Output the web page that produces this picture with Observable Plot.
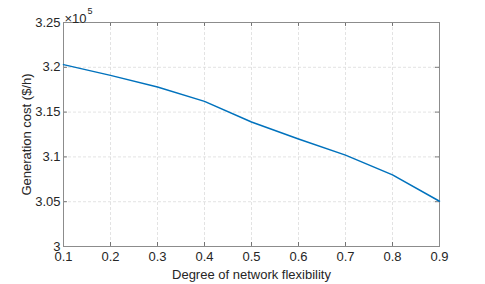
<!DOCTYPE html>
<html><head><meta charset="utf-8">
<script src="https://cdn.jsdelivr.net/npm/d3@7"></script>
<script src="https://cdn.jsdelivr.net/npm/@observablehq/plot@0.6"></script>
<style>body{margin:0;background:#fff}</style>
</head><body><div id="chart"></div>
<script>
const flexibility = [0.1, 0.2, 0.3, 0.4, 0.5, 0.6, 0.7, 0.8, 0.9];
const cost = [3.203, 3.191, 3.178, 3.162, 3.139, 3.120, 3.102, 3.080, 3.0505]; // ×10^5 $/h
const xTicks = [0.1, 0.2, 0.3, 0.4, 0.5, 0.6, 0.7, 0.8, 0.9];
const yTicks = [3, 3.05, 3.1, 3.15, 3.2, 3.25];
const data = flexibility.map((x, i) => ({x, y: cost[i]}));
const fmt = d => String(+d.toFixed(2));
const font = "Liberation Sans, Arial, sans-serif";
const chart = Plot.plot({
  width: 485, height: 284,
  marginLeft: 63, marginRight: 46, marginTop: 22, marginBottom: 38,
  style: {fontFamily: font, fontSize: "13px", color: "#262626", background: "#fff"},
  x: {domain: [0.1, 0.9]},
  y: {domain: [3, 3.25]},
  marks: [
    Plot.gridX(xTicks, {stroke: "#dcdcdc", strokeOpacity: 0.8, strokeDasharray: "3,2"}),
    Plot.gridY(yTicks, {stroke: "#dcdcdc", strokeOpacity: 0.8, strokeDasharray: "3,2"}),
    Plot.tickX(xTicks, {x: d => d, insetTop: 220, stroke: "#262626", strokeOpacity: 0.6}),
    Plot.tickX(xTicks, {x: d => d, insetBottom: 220, stroke: "#262626", strokeOpacity: 0.6}),
    Plot.tickY(yTicks, {y: d => d, insetRight: 372, stroke: "#262626", strokeOpacity: 0.6}),
    Plot.tickY(yTicks, {y: d => d, insetLeft: 372, stroke: "#262626", strokeOpacity: 0.6}),
    Plot.frame({stroke: "#8c8c8c"}),
    Plot.axisX(xTicks, {tickSize: 0, tickPadding: 5, tickFormat: fmt, fill: "#262626",
      label: "Degree of network flexibility", labelAnchor: "center", labelArrow: "none", labelOffset: 32}),
    Plot.axisY(yTicks, {tickSize: 0, tickPadding: 3, tickFormat: fmt, fill: "#262626",
      label: "Generation cost ($/h)", labelAnchor: "center", labelArrow: "none", labelOffset: 42}),
    Plot.text(["×10"], {frameAnchor: "top-left", text: d => d, dy: -9, dx: 1, textAnchor: "start", fill: "#262626"}),
    Plot.text(["5"], {frameAnchor: "top-left", text: d => d, dy: -15, dx: 24, textAnchor: "start", fontSize: 9, fill: "#262626"}),
    Plot.line(data, {x: "x", y: "y", stroke: "#0072BD", strokeWidth: 1.5})
  ]
});
document.getElementById("chart").append(chart);
</script></body></html>
